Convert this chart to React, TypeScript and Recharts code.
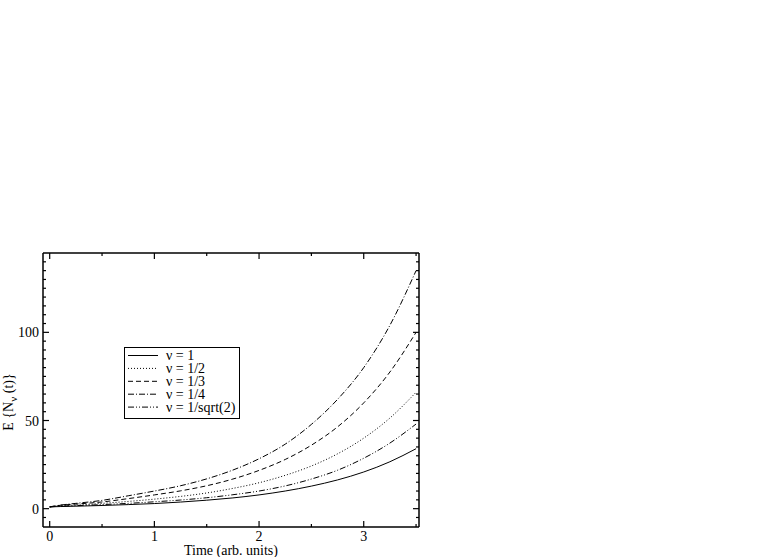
import React from 'react';
import { LineChart, Line, XAxis, YAxis, Legend } from 'recharts';

// values
const TIME = [0, 0.1, 0.25, 0.5, 0.75, 1, 1.25, 1.5, 1.75, 2, 2.25, 2.5, 2.75, 3, 3.25, 3.5];
const NU_1 = [1, 1.2, 1.4, 1.8, 2.3, 2.9, 3.75, 4.8, 6.1, 7.8, 10.0, 12.8, 16.3, 20.8, 26.6, 34];
const NU_HALF = [1, 1.6, 2.0, 3.0, 4.1, 5.4, 6.95, 8.9, 11.5, 14.7, 18.9, 24.2, 31.1, 40, 51.4, 66];
const NU_THIRD = [1, 1.9, 2.6, 3.8, 5.7, 7.8, 10.1, 13.0, 16.8, 21.7, 27.9, 36.0, 46.4, 60, 77.5, 100];
const NU_QUARTER = [1, 2.0, 3.0, 4.7, 7.3, 10.0, 13.0, 16.9, 21.9, 28.3, 36.6, 47.8, 62, 80, 104, 135];
const NU_SQRT2 = [1, 1.4, 1.7, 2.3, 3.0, 3.9, 4.9, 6.2, 7.9, 10.0, 12.9, 16.8, 21.8, 28.6, 37.2, 48];

const SERIES_NAMES = ['ν = 1', 'ν = 1/2', 'ν = 1/3', 'ν = 1/4', 'ν = 1/sqrt(2)'];
const SERIES_KEYS = ['nu1', 'nuHalf', 'nuThird', 'nuQuarter', 'nuSqrt2'];
const DASHES = ['', '1 2', '5 3', '6 2 1 2', '6 2 1 2 1 2'];

const X_TICKS = [0, 0.5, 1, 1.5, 2, 2.5, 3, 3.5];
const X_LABELS = [0, 1, 2, 3];
const Y_TICKS = [-5, 0, 5, 10, 15, 20, 25, 30, 35, 40, 45, 50, 55, 60, 65, 70, 75, 80, 85, 90, 95, 100, 105, 110, 115, 120, 125, 130, 135, 140];
const Y_LABELS = [0, 50, 100];

const data = TIME.map((t, i) => ({
  t,
  nu1: NU_1[i],
  nuHalf: NU_HALF[i],
  nuThird: NU_THIRD[i],
  nuQuarter: NU_QUARTER[i],
  nuSqrt2: NU_SQRT2[i],
}));

const FONT = 'Liberation Serif, Times New Roman, serif';

const BottomTick = ({ x, y, payload }: any) => {
  const major = X_LABELS.includes(payload.value);
  return (
    <g>
      <line x1={x} x2={x} y1={y} y2={y - (major ? 6 : 3)} stroke="#000" strokeWidth={1.2} />
      {major && (
        <text x={x} y={y + 14} textAnchor="middle" fontFamily={FONT} fontSize={14} fill="#000">
          {payload.value}
        </text>
      )}
    </g>
  );
};

const TopTick = ({ x, y, payload }: any) => {
  const major = X_LABELS.includes(payload.value);
  return <line x1={x} x2={x} y1={y} y2={y + (major ? 6 : 3)} stroke="#000" strokeWidth={1.2} />;
};

const LeftTick = ({ x, y, payload }: any) => {
  const major = Y_LABELS.includes(payload.value);
  return (
    <g>
      <line x1={x} x2={x + (major ? 6 : 3)} y1={y} y2={y} stroke="#000" strokeWidth={1.2} />
      {major && (
        <text x={x - 4} y={y + 5} textAnchor="end" fontFamily={FONT} fontSize={14} fill="#000">
          {payload.value}
        </text>
      )}
    </g>
  );
};

const RightTick = ({ x, y, payload }: any) => {
  const major = Y_LABELS.includes(payload.value);
  return <line x1={x} x2={x - (major ? 6 : 3)} y1={y} y2={y} stroke="#000" strokeWidth={1.2} />;
};

const YTitle = () => (
  <text transform="translate(13,402) rotate(-90)" textAnchor="middle" fontFamily={FONT} fontSize={14} fill="#000">
    {'E {N'}
    <tspan dy={4} fontSize={11}>ν</tspan>
    <tspan dy={-4}>{' (t)}'}</tspan>
  </text>
);

const renderLegend = () => (
  <div style={{ width: 116, height: 72, border: '1.5px solid #000', boxSizing: 'border-box', background: '#fff' }}>
    <svg width={113} height={69}>
      {SERIES_NAMES.map((name, i) => {
        const cy = 7.5 + i * 12.9;
        return (
          <g key={name}>
            <line x1={3} x2={33} y1={cy} y2={cy} stroke="#000" strokeWidth={1} strokeDasharray={DASHES[i] || undefined} />
            <text x={41} y={cy + 4.5} fontFamily={FONT} fontSize={14} fill="#000">
              {name}
            </text>
          </g>
        );
      })}
    </svg>
  </div>
);

const App: React.FC = () => (
  <div style={{ position: 'absolute', left: 0, top: 0, width: 766, height: 557, background: '#fff' }}>
    <LineChart width={766} height={557} data={data} margin={{ top: 252, right: 346, bottom: 0, left: 0 }}>
      <XAxis
        xAxisId="bottom"
        dataKey="t"
        type="number"
        domain={[-0.064, 3.528]}
        allowDataOverflow
        ticks={X_TICKS}
        interval={0}
        height={30}
        tickSize={0}
        tickMargin={0}
        tick={<BottomTick />}
        tickLine={false}
        axisLine={{ stroke: '#000', strokeWidth: 1.5 }}
        label={{ value: 'Time (arb. units)', position: 'insideBottom', offset: 2, fontFamily: FONT, fontSize: 14, fill: '#000' }}
      />
      <XAxis
        xAxisId="top"
        orientation="top"
        dataKey="t"
        type="number"
        domain={[-0.064, 3.528]}
        allowDataOverflow
        ticks={X_TICKS}
        interval={0}
        height={1}
        tickSize={0}
        tickMargin={0}
        tick={<TopTick />}
        tickLine={false}
        axisLine={{ stroke: '#000', strokeWidth: 1.5 }}
      />
      <YAxis
        yAxisId="left"
        type="number"
        domain={[-10.4, 145]}
        allowDataOverflow
        ticks={Y_TICKS}
        interval={0}
        width={43}
        tickSize={0}
        tickMargin={0}
        tick={<LeftTick />}
        tickLine={false}
        axisLine={{ stroke: '#000', strokeWidth: 1.5 }}
        label={<YTitle />}
      />
      <YAxis
        yAxisId="right"
        orientation="right"
        type="number"
        domain={[-10.4, 145]}
        allowDataOverflow
        ticks={Y_TICKS}
        interval={0}
        width={1}
        tickSize={0}
        tickMargin={0}
        tick={<RightTick />}
        tickLine={false}
        axisLine={{ stroke: '#000', strokeWidth: 1.5 }}
      />
      {SERIES_KEYS.map((key, i) => (
        <Line
          key={key}
          xAxisId="bottom"
          yAxisId="left"
          type="monotone"
          dataKey={key}
          name={SERIES_NAMES[i]}
          stroke="#000"
          strokeWidth={1}
          strokeDasharray={DASHES[i] || undefined}
          dot={false}
          isAnimationActive={false}
        />
      ))}
      <Legend
        layout="vertical"
        align="center"
        verticalAlign="middle"
        content={renderLegend}
        wrapperStyle={{ left: 124, top: 347, width: 116, height: 72 }}
      />
    </LineChart>
  </div>
);

export default App;
